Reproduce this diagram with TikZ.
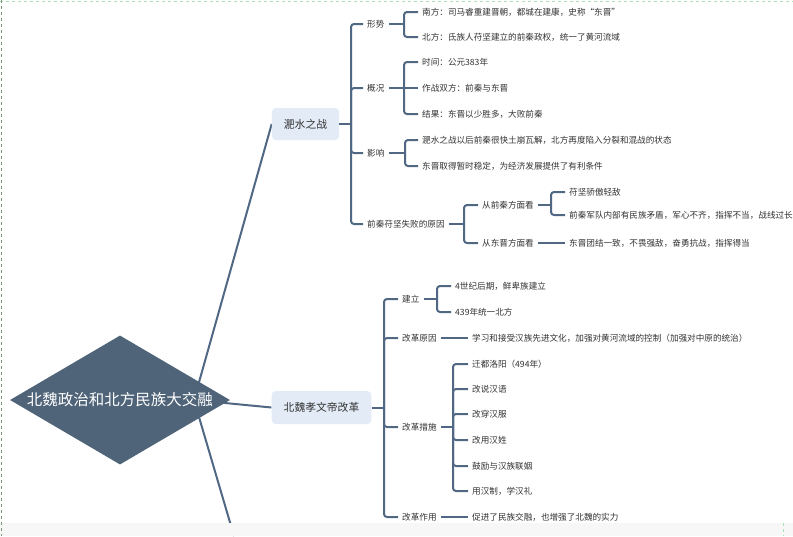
\documentclass[tikz,border=0pt]{standalone}
\usepackage{fontspec}
\newfontfamily\cjk{Noto Sans CJK SC}
\definecolor{slate}{RGB}{79,100,121}
\definecolor{linkblue}{RGB}{80,104,132}
\definecolor{paleblue}{RGB}{226,235,246}
\definecolor{inkgray}{RGB}{51,51,51}
\definecolor{dashgreen}{RGB}{170,225,185}
\definecolor{edgegreen}{RGB}{120,150,120}
\usepackage{tikz}
\usetikzlibrary{shapes,positioning,backgrounds}

\begin{document}
\begin{tikzpicture}[x=1pt,y=-1pt,
  rootnode/.style={diamond,aspect=1.7,fill=slate,text=white,font=\cjk\fontsize{15.5}{18}\selectfont,minimum width=220pt,minimum height=129pt,inner sep=0pt},
  topicbox/.style={fill=paleblue,rounded corners=4pt,text=inkgray,font=\cjk\fontsize{10.8}{13}\selectfont,minimum height=32pt,inner xsep=12pt},
  itemtext/.style={anchor=west,text=inkgray,font=\cjk\fontsize{8.6}{11}\selectfont,inner xsep=4pt,inner ysep=2pt},
  linkline/.style={draw=linkblue,line width=2pt},
  elbowline/.style={linkline,rounded corners=3pt}]
  \useasboundingbox (0,0) rectangle (793,536);
  % centro
  \node[rootnode] (rt) at (120,400) {北魏政治和北方民族大交融};
  \coordinate (hub) at (194,400);
  % ramos
  \node[topicbox] (ta) at (305.5,124) {淝水之战};
  \node[topicbox,minimum height=33pt] (tb) at (321.5,407.5) {北魏孝文帝改革};
  \coordinate (tc) at (234,536);
  % nivel 2 -淝水之战
  \node[itemtext] (taa) at (363,24) {形势};
  \node[itemtext] (tab) at (363,88) {概况};
  \node[itemtext] (tac) at (363,153) {影响};
  \node[itemtext] (tad) at (363,224) {前秦苻坚失败的原因};
  % folhas
  \node[itemtext] (taaa) at (418,12) {南方：司马睿重建晋朝，都城在建康，史称“东晋”};
  \node[itemtext] (taab) at (418,37) {北方：氐族人苻坚建立的前秦政权，统一了黄河流域};
  \node[itemtext] (taba) at (418,62) {时间：公元383年};
  \node[itemtext] (tabb) at (418,88) {作战双方：前秦与东晋};
  \node[itemtext] (tabc) at (418,114) {结果：东晋以少胜多，大败前秦};
  \node[itemtext] (taca) at (418,140) {淝水之战以后前秦很快土崩瓦解，北方再度陷入分裂和混战的状态};
  \node[itemtext] (tacb) at (418,166) {东晋取得暂时稳定，为经济发展提供了有利条件};
  \node[itemtext] (tada) at (478,205) {从前秦方面看};
  \node[itemtext] (tadb) at (478,243) {从东晋方面看};
  \node[itemtext] (tadaa) at (565,192) {苻坚骄傲轻敌};
  \node[itemtext] (tadab) at (565,215) {前秦军队内部有民族矛盾，军心不齐，指挥不当，战线过长};
  \node[itemtext] (tadba) at (565,243) {东晋团结一致，不畏强敌，奋勇抗战，指挥得当};
  % nivel 2 - 孝文帝改革
  \node[itemtext] (tba) at (398,299) {建立};
  \node[itemtext] (tbb) at (398,338) {改革原因};
  \node[itemtext] (tbc) at (398,427) {改革措施};
  \node[itemtext] (tbd) at (398,517) {改革作用};
  % folhas
  \node[itemtext] (tbaa) at (451,286) {4世纪后期，鲜卑族建立};
  \node[itemtext] (tbab) at (451,312) {439年统一北方};
  \node[itemtext] (tbba) at (468,338) {学习和接受汉族先进文化，加强对黄河流域的控制（加强对中原的统治）};
  \node[itemtext] (tbca) at (468,364) {迁都洛阳（494年）};
  \node[itemtext] (tbcb) at (468,389) {改说汉语};
  \node[itemtext] (tbcc) at (468,414) {改穿汉服};
  \node[itemtext] (tbcd) at (468,440) {改用汉姓};
  \node[itemtext] (tbce) at (468,466) {鼓励与汉族联姻};
  \node[itemtext] (tbcf) at (468,491) {用汉制，学汉礼};
  \node[itemtext] (tbda) at (468,517) {促进了民族交融，也增强了北魏的实力};
  % chaves
  \coordinate (bta) at (351,0 |- ta.east);
  \coordinate (btaa) at (404,0 |- taa.east);
  \coordinate (btab) at (404,0 |- tab.east);
  \coordinate (btac) at (405,0 |- tac.east);
  \coordinate (btad) at (464,0 |- tad.east);
  \coordinate (btada) at (551,0 |- tada.east);
  \coordinate (btb) at (384,0 |- tb.east);
  \coordinate (btba) at (437,0 |- tba.east);
  \coordinate (btbc) at (453,0 |- tbc.east);
  % conexoes
  \begin{scope}[on background layer]
    \fill[white] (0,0) rectangle (793,536);
    \draw[linkline] (hub) -- (ta.west);
    \draw[linkline] (hub) -- (tb.west);
    \draw[linkline] (hub) -- (tc);
  \end{scope}
  \draw[linkline] (ta.east) -- (bta);
  \foreach \t in {taa,tab,tac,tad}
    \draw[elbowline] (bta) |- (\t.west);
  \draw[linkline] (taa.east) -- (btaa);
  \foreach \t in {taaa,taab}
    \draw[elbowline] (btaa) |- (\t.west);
  \draw[linkline] (tab.east) -- (tabb.west);
  \foreach \t in {taba,tabc}
    \draw[elbowline] (btab) |- (\t.west);
  \draw[linkline] (tac.east) -- (btac);
  \foreach \t in {taca,tacb}
    \draw[elbowline] (btac) |- (\t.west);
  \draw[linkline] (tad.east) -- (btad);
  \foreach \t in {tada,tadb}
    \draw[elbowline] (btad) |- (\t.west);
  \draw[linkline] (tada.east) -- (btada);
  \foreach \t in {tadaa,tadab}
    \draw[elbowline] (btada) |- (\t.west);
  \draw[linkline] (tadb.east) -- (tadba.west);
  \draw[linkline] (tb.east) -- (btb);
  \foreach \t in {tba,tbb,tbc,tbd}
    \draw[elbowline] (btb) |- (\t.west);
  \draw[linkline] (tba.east) -- (btba);
  \foreach \t in {tbaa,tbab}
    \draw[elbowline] (btba) |- (\t.west);
  \draw[linkline] (tbb.east) -- (tbba.west);
  \draw[linkline] (tbc.east) -- (btbc);
  \foreach \t in {tbca,tbcb,tbcc,tbcd,tbce,tbcf}
    \draw[elbowline] (btbc) |- (\t.west);
  \draw[linkline] (tbd.east) -- (tbda.west);
  % moldura
  \fill[gray!6] (0,523) rectangle (793,536);
  \draw[dashgreen,dashed,line width=1pt] (0,1) -- (793,1);
  \draw[dashgreen,dashed,line width=1pt] (783,523) -- (783,536);
  \draw[edgegreen,dashed,line width=1pt] (1,0) -- (1,536);
\end{tikzpicture}
\end{document}
